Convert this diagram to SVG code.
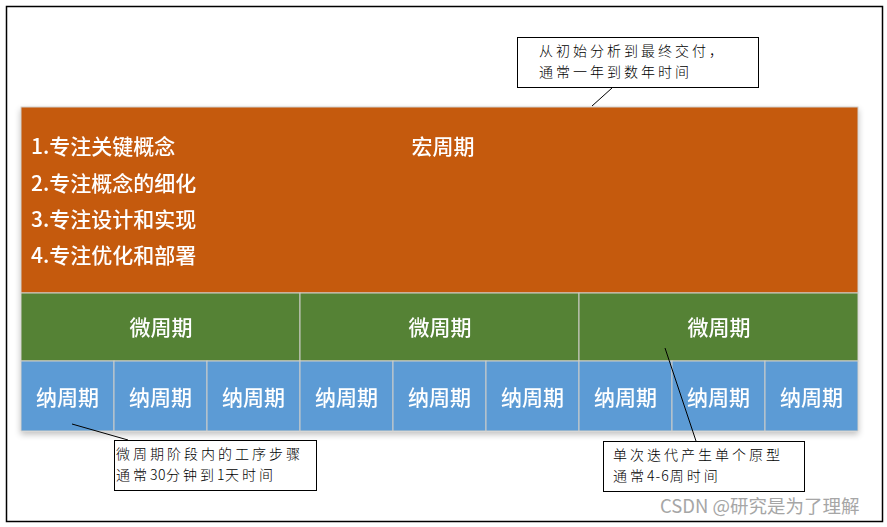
<svg xmlns="http://www.w3.org/2000/svg" width="887" height="527" viewBox="0 0 887 527">
<defs>
<style>
.w{fill:#fff;font-family:"Microsoft YaHei","Noto Sans CJK SC",sans-serif;font-size:21px;font-weight:500}
.c{text-anchor:middle}
.cell{stroke:#D0CEC9;stroke-width:1}
.call{fill:#fff;stroke:#000;stroke-width:1}
.ct{fill:#000;font-family:"Noto Sans CJK SC",sans-serif;font-size:14px;letter-spacing:3px;font-weight:300}
.ln{stroke:#000;stroke-width:1;fill:none}
</style>
<filter id="sh" x="-5%" y="-20%" width="110%" height="160%">
<feGaussianBlur in="SourceAlpha" stdDeviation="3"/>
<feOffset dy="3"/>
<feComponentTransfer><feFuncA type="linear" slope="0.25"/></feComponentTransfer>
<feMerge><feMergeNode/><feMergeNode in="SourceGraphic"/></feMerge>
</filter>
</defs>
<rect x="0" y="0" width="887" height="527" fill="#fff"/>
<rect x="6.5" y="6.5" width="876" height="515" fill="none" stroke="#000" stroke-width="1.5"/>

<g id="blocks" filter="url(#sh)">
<g id="macro">
<rect class="cell" x="21" y="107" width="837" height="186" fill="#C55A11"/>
<text class="w c" x="443" y="154">宏周期</text>
<text class="w" x="31" y="154">1.专注关键概念</text>
<text class="w" x="31" y="191">2.专注概念的细化</text>
<text class="w" x="31" y="227">3.专注设计和实现</text>
<text class="w" x="31" y="263">4.专注优化和部署</text>
</g>
<g id="micro1"><rect class="cell" x="21" y="293" width="279" height="68" fill="#548235"/><text class="w c" x="161" y="335">微周期</text></g>
<g id="micro2"><rect class="cell" x="300" y="293" width="279" height="68" fill="#548235"/><text class="w c" x="440" y="335">微周期</text></g>
<g id="micro3"><rect class="cell" x="579" y="293" width="279" height="68" fill="#548235"/><text class="w c" x="719" y="335">微周期</text></g>
<g id="nano1"><rect class="cell" x="21" y="361" width="93" height="70" fill="#5B9BD5"/><text class="w c" x="67.5" y="405">纳周期</text></g>
<g id="nano2"><rect class="cell" x="114" y="361" width="93" height="70" fill="#5B9BD5"/><text class="w c" x="160.5" y="405">纳周期</text></g>
<g id="nano3"><rect class="cell" x="207" y="361" width="93" height="70" fill="#5B9BD5"/><text class="w c" x="253.5" y="405">纳周期</text></g>
<g id="nano4"><rect class="cell" x="300" y="361" width="93" height="70" fill="#5B9BD5"/><text class="w c" x="346.5" y="405">纳周期</text></g>
<g id="nano5"><rect class="cell" x="393" y="361" width="93" height="70" fill="#5B9BD5"/><text class="w c" x="439.5" y="405">纳周期</text></g>
<g id="nano6"><rect class="cell" x="486" y="361" width="93" height="70" fill="#5B9BD5"/><text class="w c" x="532.5" y="405">纳周期</text></g>
<g id="nano7"><rect class="cell" x="579" y="361" width="93" height="70" fill="#5B9BD5"/><text class="w c" x="625.5" y="405">纳周期</text></g>
<g id="nano8"><rect class="cell" x="672" y="361" width="93" height="70" fill="#5B9BD5"/><text class="w c" x="718.5" y="405">纳周期</text></g>
<g id="nano9"><rect class="cell" x="765" y="361" width="93" height="70" fill="#5B9BD5"/><text class="w c" x="811.5" y="405">纳周期</text></g>
</g>

<g id="connectors">
<line class="ln" x1="612" y1="88" x2="592" y2="106"/>
<line class="ln" x1="72" y1="424" x2="128" y2="440"/>
<line class="ln" x1="665" y1="348" x2="696" y2="441"/>
</g>

<g id="note-macro">
<rect class="call" x="517.5" y="37.5" width="241" height="50"/>
<text class="ct" x="539" y="56">从初始分析到最终交付，</text>
<text class="ct" x="539" y="77">通常一年到数年时间</text>
</g>
<g id="note-nano">
<rect class="call" x="114.5" y="440.5" width="202" height="50"/>
<text class="ct" x="116" y="459">微周期阶段内的工序步骤</text>
<text class="ct" x="116" y="480">通常<tspan letter-spacing="0.5px">30</tspan>分钟到<tspan letter-spacing="0.5px">1</tspan>天时间</text>
</g>
<g id="note-micro">
<rect class="call" x="603.5" y="441.5" width="201" height="50"/>
<text class="ct" x="613" y="460">单次迭代产生单个原型</text>
<text class="ct" x="613" y="481">通常<tspan letter-spacing="1px">4-6</tspan>周时间</text>
</g>
<text x="660" y="513" fill="#A6A6A6" font-family="'Noto Sans CJK SC',sans-serif" font-size="18.5px">CSDN @研究是为了理解</text>
</svg>
